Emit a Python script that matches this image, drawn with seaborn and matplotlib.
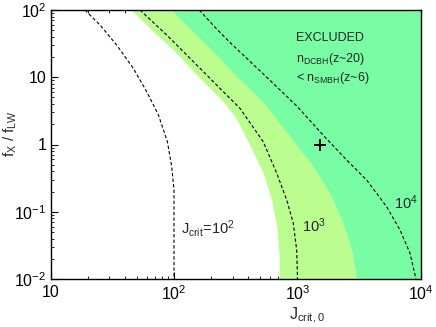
import pandas as pd
import matplotlib
matplotlib.use("Agg")
import matplotlib.pyplot as plt
import seaborn as sns

# ── Data (J_crit,0 vs f_X / f_LW) ────────────────────────────────────────────
# dashed curves, one per J_crit
f_j2 = [100, 59.8, 30.2, 13.6, 6.1, 2.75, 1.10, 0.47, 0.21, 0.01]
j_j2 = [19.0, 25.2, 34.3, 46.8, 60.1, 74.8, 88.4, 95.8, 100, 100]

f_j3 = [100, 42.5, 19.1, 8.6, 3.45, 1.10, 0.373, 0.150, 0.0673, 0.027, 0.01]
j_j3 = [53, 87.3, 135, 208, 342, 528, 679, 818, 925, 985, 1000]

f_j4 = [100, 53.4, 32.9, 11.2, 3.74, 1.21, 0.59, 0.296, 0.119, 0.0536, 0.0241, 0.01]
j_j4 = [160, 219, 284, 528, 986, 1722, 2500, 3630, 5270, 6760, 8150, 9100]

# edges of the shaded (excluded) regions
f_light = [100, 53.4, 24, 9.6, 4.33, 2.48, 0.98, 0.373, 0.150, 0.060, 0.024, 0.01]
j_light = [45.4, 64, 102, 163, 251, 318, 412, 528, 618, 679, 709, 712]

f_dark = [100, 47.6, 21.4, 10.2, 4.33, 0.98, 0.468, 0.188, 0.0673, 0.027, 0.01]
j_dark = [95.7, 143, 222, 322, 528, 986, 1343, 1833, 2350, 2750, 3013]

# plus marker
plus_j = [1520]
plus_f = [1.0]

x_ticks = [10, 100, 1000, 10000]
x_labels = ["10", "$10^2$", "$10^3$", "$10^4$"]
y_ticks = [0.01, 0.1, 1, 10, 100]
y_labels = ["$10^{-2}$", "$10^{-1}$", "1", "10", "$10^2$"]

XMIN, XMAX = 10, 1e4
YMIN, YMAX = 0.01, 100

# ── Style ────────────────────────────────────────────────────────────────────
sns.set_theme(style="ticks")
plt.rcParams["font.family"] = ["Liberation Sans", "DejaVu Sans"]
plt.rcParams["mathtext.fontset"] = "custom"
plt.rcParams["mathtext.rm"] = "Liberation Sans"
plt.rcParams["mathtext.it"] = "Liberation Sans"
plt.rcParams["mathtext.bf"] = "Liberation Sans:bold"

LIGHT = "#bcfd8f"
DARK = "#78fda5"

fig = plt.figure(figsize=(4.36, 3.27), dpi=100)
ax = fig.add_axes([50.5 / 436, 48 / 327, 370.5 / 436, 269 / 327])

# shaded regions
ax.fill_betweenx(f_light, j_light, XMAX, color=LIGHT, linewidth=0, zorder=1)
ax.fill_betweenx(f_dark, j_dark, XMAX, color=DARK, linewidth=0, zorder=2)

# dashed J_crit curves
curves = pd.concat([
    pd.DataFrame({"J": j_j2, "f": f_j2, "Jcrit": "1e2"}),
    pd.DataFrame({"J": j_j3, "f": f_j3, "Jcrit": "1e3"}),
    pd.DataFrame({"J": j_j4, "f": f_j4, "Jcrit": "1e4"}),
])
for name, grp in curves.groupby("Jcrit"):
    sns.lineplot(data=grp, x="J", y="f", sort=False, estimator=None, ax=ax,
                 color="black", linewidth=0.8, linestyle=(0, (3, 2)), zorder=3)

ax.plot(plus_j, plus_f, marker="+", color="black", markersize=9,
        markeredgewidth=1.4, linestyle="none", zorder=4)

ax.set_xscale("log")
ax.set_yscale("log")
ax.set_xlim(XMIN, XMAX)
ax.set_ylim(YMIN, YMAX)

ax.set_xticks(x_ticks)
ax.set_xticklabels(x_labels)
ax.set_yticks(y_ticks)
ax.set_yticklabels(y_labels)
ax.tick_params(which="both", direction="in", top=True, right=True,
               colors="black", labelsize=11.5)
ax.tick_params(which="major", length=5, width=0.8)
ax.tick_params(which="minor", length=2.5, width=0.6)
ax.tick_params(axis="x", pad=4)
ax.tick_params(axis="y", pad=3)
for s in ax.spines.values():
    s.set_linewidth(1.0)
    s.set_color("black")
    s.set_zorder(5)

ax.set_xlabel(r"J$_{\rm crit,0}$", fontsize=11.5)
ax.set_ylabel(r"f$_{\rm X}$ / f$_{\rm LW}$", fontsize=11)
ax.xaxis.set_label_coords(0.692, -0.1)
ax.yaxis.set_label_coords(-0.086, 0.54)

# annotations (figure pixel positions from the reference)
def put(px, py, s, size, ha="center"):
    fig.text(px / 436, 1 - py / 327, s, fontsize=size, ha=ha, va="center")

put(208, 229, r"J$_{\rm crit}$=10$^2$", 10.5)
put(314, 226, r"10$^3$", 10.5)
put(406, 203, r"10$^4$", 10.5)
put(296, 38, "EXCLUDED", 9, ha="left")
put(296, 59, r"n$_{\rm DCBH}$(z~20)", 9, ha="left")
put(296, 78, r"< n$_{\rm SMBH}$(z~6)", 9, ha="left")

fig.savefig("out.png", dpi=100)
